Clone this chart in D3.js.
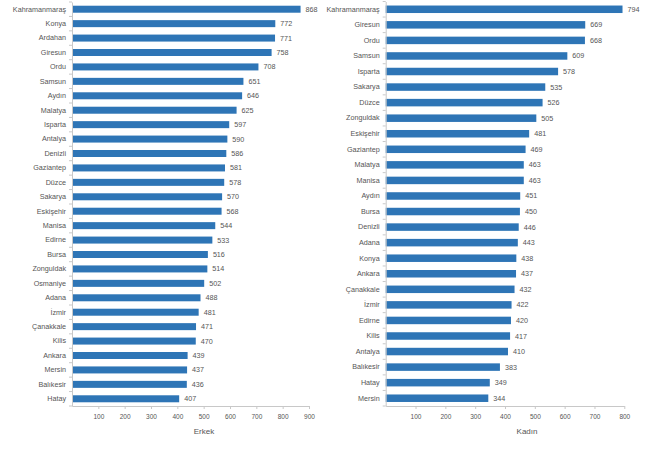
<!DOCTYPE html>
<html><head><meta charset="utf-8">
<script src="https://cdn.jsdelivr.net/npm/d3@7"></script>
<style>body{margin:0;background:#fff}svg{display:block}text{font-family:"Liberation Sans",Arial,sans-serif}</style>
</head><body><svg id="c" width="660" height="450"></svg>
<script>
const erkekCities = ["Kahramanmaraş","Konya","Ardahan","Giresun","Ordu","Samsun","Aydın","Malatya","Isparta","Antalya","Denizli","Gaziantep","Düzce","Sakarya","Eskişehir","Manisa","Edirne","Bursa","Zonguldak","Osmaniye","Adana","İzmir","Çanakkale","Kilis","Ankara","Mersin","Balıkesir","Hatay"];
const erkekValues = [868,772,771,758,708,651,646,625,597,590,586,581,578,570,568,544,533,516,514,502,488,481,471,470,439,437,436,407];
const erkekTicks = [100,200,300,400,500,600,700,800,900];
const kadinCities = ["Kahramanmaraş","Giresun","Ordu","Samsun","Isparta","Sakarya","Düzce","Zonguldak","Eskişehir","Gaziantep","Malatya","Manisa","Aydın","Bursa","Denizli","Adana","Konya","Ankara","Çanakkale","İzmir","Edirne","Kilis","Antalya","Balıkesir","Hatay","Mersin"];
const kadinValues = [794,669,668,609,578,535,526,505,481,469,463,463,451,450,446,443,438,437,432,422,420,417,410,383,349,344];
const kadinTicks = [100,200,300,400,500,600,700,800];

const svg = d3.select("#c");
const barColor = "#2E75B6", txt = "#555555", axisCol = "#c8c8c8";
const ff = '"Liberation Sans",Arial,sans-serif';

function panel(cities, values, ticks, xMax, x0, x1, y0, y1, barH, title, titleX){
  const g = svg.append("g");
  const x = d3.scaleLinear().domain([0,xMax]).range([x0,x1]);
  const y = d3.scaleBand().domain(cities).range([y0,y1]);
  g.selectAll("rect").data(cities).join("rect")
    .attr("x", x(0)).attr("y", d => y(d) + y.bandwidth()/2 - barH/2)
    .attr("width", (d,i) => x(values[i]) - x(0)).attr("height", barH).attr("fill", barColor);
  g.selectAll("text.v").data(cities).join("text").attr("class","v")
    .attr("x", (d,i) => x(values[i]) + 5).attr("y", d => y(d) + y.bandwidth()/2)
    .attr("dy","0.35em").attr("font-size",7.2).attr("fill",txt).text((d,i)=>values[i]);
  const ya = g.append("g").attr("transform",`translate(${x(0)},0)`).call(d3.axisLeft(y).tickSize(0).tickPadding(6));
  ya.select(".domain").attr("stroke",axisCol);
  ya.selectAll("text").attr("font-size",7.2).attr("fill",txt).attr("font-family",ff);
  g.selectAll("line.yt").data(d3.range(cities.length+1)).join("line").attr("class","yt")
    .attr("x1",x(0)-3).attr("x2",x(0)).attr("y1",i=>y0+i*y.step()).attr("y2",i=>y0+i*y.step())
    .attr("stroke",axisCol);
  const xa = g.append("g").attr("transform",`translate(0,${y1})`)
    .call(d3.axisBottom(x).tickValues(ticks).tickSize(3).tickPadding(5).tickSizeOuter(0));
  xa.select(".domain").attr("stroke",axisCol);
  xa.selectAll("line").attr("stroke",axisCol);
  xa.selectAll("text").attr("font-size",6.5).attr("fill",txt).attr("font-family",ff);
  g.append("text").attr("x",titleX).attr("y",434).attr("text-anchor","middle")
    .attr("font-size",8).attr("fill",txt).text(title);
}
panel(erkekCities, erkekValues, erkekTicks, 900, 72, 309, 2, 406, 7, "Erkek", 204);
panel(kadinCities, kadinValues, kadinTicks, 800, 385.7, 624.3, 1.5, 406, 7.5, "Kadın", 527);
</script></body></html>
